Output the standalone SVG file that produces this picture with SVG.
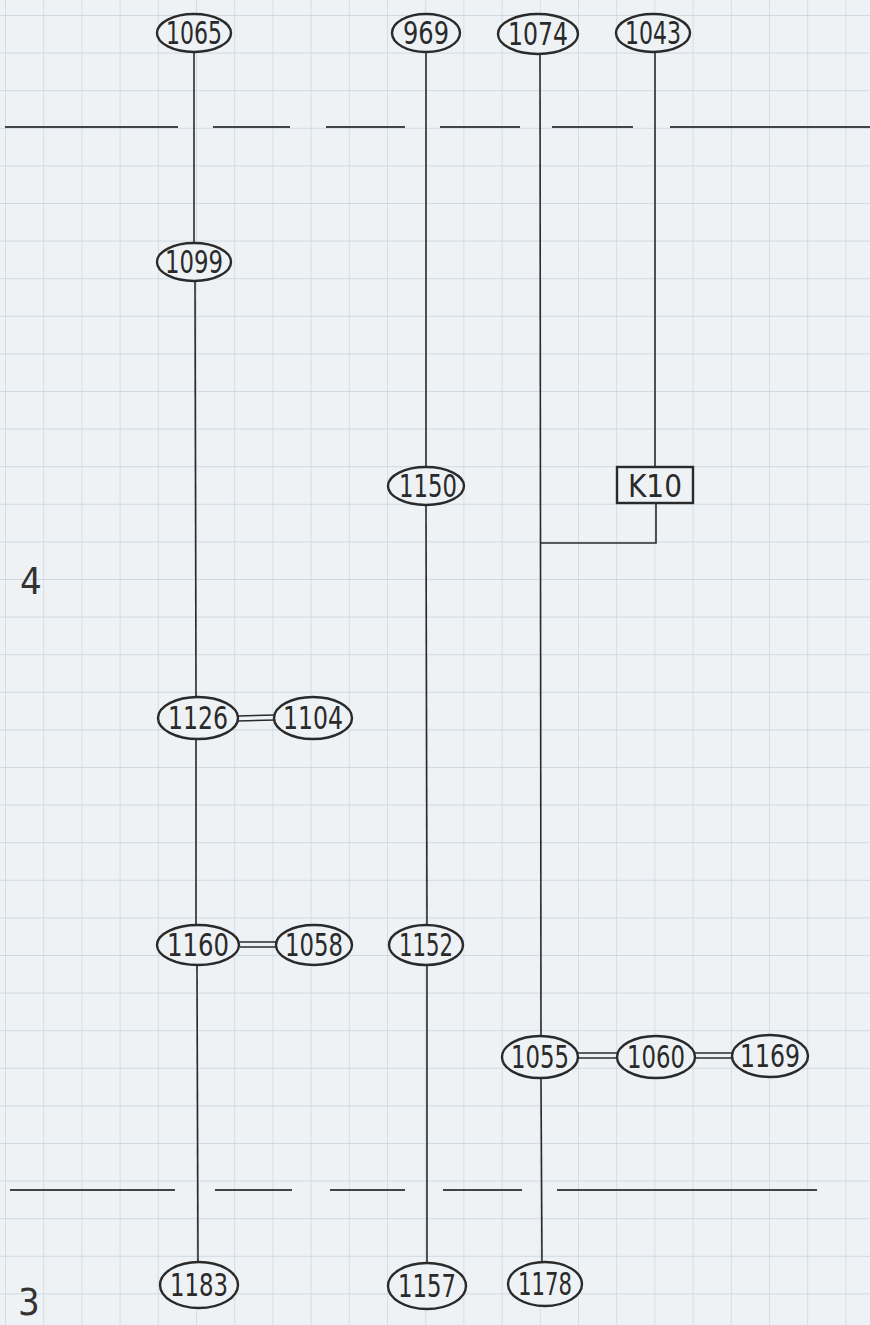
<svg xmlns="http://www.w3.org/2000/svg" width="870" height="1325" viewBox="0 0 870 1325">
<defs>
<pattern id="grid" x="5" y="15" width="38.2" height="37.6" patternUnits="userSpaceOnUse">
<path d="M0 0V37.6M0 0H38.2" fill="none" stroke="#c6d2de" stroke-width="1.3"/>
</pattern>
</defs>
<style>
.n ellipse,.n rect{fill:#eef2f5;stroke:#2a2a2a;stroke-width:2.4}
.n text{font-family:"Liberation Sans Narrow","DejaVu Sans Condensed","Liberation Sans",sans-serif;font-size:32px;fill:#2a2a2a;text-anchor:middle;dominant-baseline:central}
.c line,.c polyline{stroke:#2a2a2a;stroke-width:1.6;fill:none}
.d{stroke:#444;stroke-width:2.2}
.lbl{font-family:"Liberation Sans Narrow","DejaVu Sans Condensed",sans-serif;font-size:38px;fill:#333}
</style>
<rect width="870" height="1325" fill="#eef2f5"/>
<rect width="870" height="1325" fill="url(#grid)"/>
<g id="dashes">
<line class="d" x1="5" y1="127" x2="178" y2="127"/>
<line class="d" x1="213" y1="127" x2="290" y2="127"/>
<line class="d" x1="326" y1="127" x2="405" y2="127"/>
<line class="d" x1="440" y1="127" x2="520" y2="127"/>
<line class="d" x1="552" y1="127" x2="633" y2="127"/>
<line class="d" x1="670" y1="127" x2="870" y2="127"/>
<line class="d" x1="10" y1="1190" x2="175" y2="1190"/>
<line class="d" x1="215" y1="1190" x2="292" y2="1190"/>
<line class="d" x1="330" y1="1190" x2="405" y2="1190"/>
<line class="d" x1="443" y1="1190" x2="522" y2="1190"/>
<line class="d" x1="557" y1="1190" x2="817" y2="1190"/>
</g>
<g id="connectors" class="c">
<line x1="194" y1="52" x2="194" y2="243"/>
<line x1="195" y1="282" x2="196" y2="697"/>
<line x1="196" y1="740" x2="196" y2="925"/>
<line x1="197" y1="965" x2="198" y2="1262"/>
<line x1="426" y1="52" x2="426" y2="468"/>
<line x1="426" y1="505" x2="427" y2="925"/>
<line x1="427" y1="965" x2="427" y2="1262"/>
<line x1="540" y1="52" x2="541" y2="1035"/>
<line x1="541" y1="1078" x2="542" y2="1264"/>
<line x1="655" y1="52" x2="655" y2="467"/>
<polyline points="656,503 656,543 540,543"/>
<line x1="238" y1="716" x2="275" y2="715"/>
<line x1="238" y1="721" x2="275" y2="720"/>
<line x1="240" y1="942" x2="277" y2="942"/>
<line x1="240" y1="947" x2="277" y2="947"/>
<line x1="578" y1="1053" x2="618" y2="1053"/>
<line x1="578" y1="1058" x2="618" y2="1058"/>
<line x1="695" y1="1053" x2="734" y2="1053"/>
<line x1="695" y1="1058" x2="734" y2="1058"/>
</g>
<g id="n1065" class="n"><ellipse cx="194" cy="33" rx="37" ry="19"/><text x="194" y="33" textLength="56" lengthAdjust="spacingAndGlyphs">1065</text></g>
<g id="n969" class="n"><ellipse cx="426" cy="33" rx="34" ry="19"/><text x="426" y="33" textLength="46" lengthAdjust="spacingAndGlyphs">969</text></g>
<g id="n1074" class="n"><ellipse cx="538" cy="34" rx="40" ry="20"/><text x="538" y="34" textLength="60" lengthAdjust="spacingAndGlyphs">1074</text></g>
<g id="n1043" class="n"><ellipse cx="653" cy="33" rx="37" ry="19"/><text x="653" y="33" textLength="56" lengthAdjust="spacingAndGlyphs">1043</text></g>
<g id="n1099" class="n"><ellipse cx="194" cy="262" rx="37" ry="19"/><text x="194" y="262" textLength="58" lengthAdjust="spacingAndGlyphs">1099</text></g>
<g id="n1150" class="n"><ellipse cx="426" cy="486" rx="38" ry="19"/><text x="428" y="486" textLength="58" lengthAdjust="spacingAndGlyphs">1150</text></g>
<g id="nK10" class="n"><rect x="617" y="467" width="76" height="36"/><text x="655" y="486" textLength="54" lengthAdjust="spacingAndGlyphs">K10</text></g>
<g id="n1126" class="n"><ellipse cx="198" cy="718" rx="40" ry="21"/><text x="198" y="718" textLength="60" lengthAdjust="spacingAndGlyphs">1126</text></g>
<g id="n1104" class="n"><ellipse cx="313" cy="718" rx="39" ry="21"/><text x="313" y="718" textLength="60" lengthAdjust="spacingAndGlyphs">1104</text></g>
<g id="n1160" class="n"><ellipse cx="198" cy="945" rx="41" ry="20"/><text x="198" y="945" textLength="62" lengthAdjust="spacingAndGlyphs">1160</text></g>
<g id="n1058" class="n"><ellipse cx="314" cy="945" rx="38" ry="20"/><text x="314" y="945" textLength="58" lengthAdjust="spacingAndGlyphs">1058</text></g>
<g id="n1152" class="n"><ellipse cx="426" cy="945" rx="37" ry="20"/><text x="426" y="945" textLength="54" lengthAdjust="spacingAndGlyphs">1152</text></g>
<g id="n1055" class="n"><ellipse cx="540" cy="1057" rx="38" ry="21"/><text x="540" y="1057" textLength="58" lengthAdjust="spacingAndGlyphs">1055</text></g>
<g id="n1060" class="n"><ellipse cx="656" cy="1057" rx="39" ry="21"/><text x="656" y="1057" textLength="58" lengthAdjust="spacingAndGlyphs">1060</text></g>
<g id="n1169" class="n"><ellipse cx="770" cy="1056" rx="38" ry="21"/><text x="770" y="1056" textLength="60" lengthAdjust="spacingAndGlyphs">1169</text></g>
<g id="n1183" class="n"><ellipse cx="199" cy="1285" rx="39" ry="23"/><text x="199" y="1285" textLength="58" lengthAdjust="spacingAndGlyphs">1183</text></g>
<g id="n1157" class="n"><ellipse cx="427" cy="1286" rx="39" ry="23"/><text x="427" y="1286" textLength="58" lengthAdjust="spacingAndGlyphs">1157</text></g>
<g id="n1178" class="n"><ellipse cx="545" cy="1284" rx="37" ry="22"/><text x="545" y="1284" textLength="54" lengthAdjust="spacingAndGlyphs">1178</text></g>
<text class="lbl" x="20" y="594">4</text>
<text class="lbl" x="18" y="1315">3</text>
</svg>
